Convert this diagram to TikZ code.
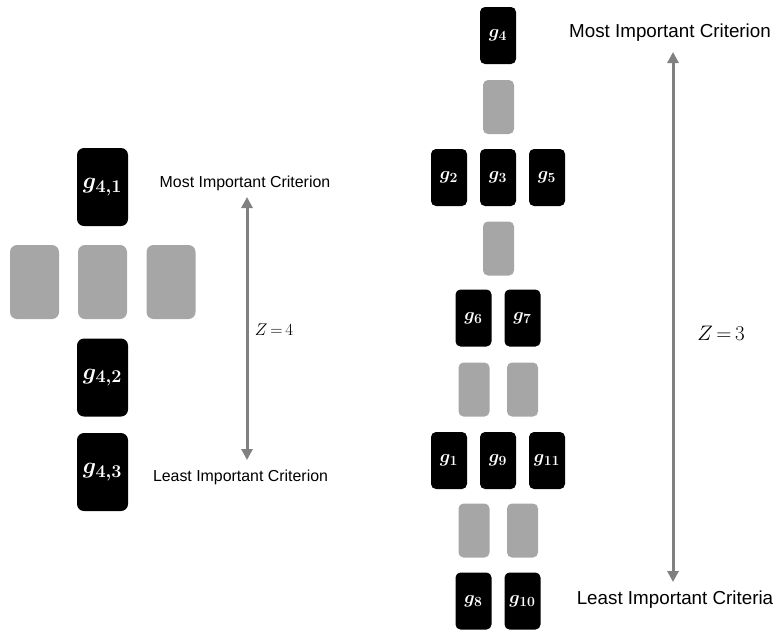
\RequirePackage{fix-cm}
\documentclass[tikz,border=0pt]{standalone}
\usepackage[no-math]{fontspec}
\usepackage{amsmath,bm}
\usetikzlibrary{arrows.meta,positioning}
\newfontfamily\labelfont{Liberation Sans}
\DeclareMathSizes{23}{23}{18}{14}
\DeclareMathSizes{18}{18}{14}{11}
\definecolor{cardgray}{RGB}{166,166,166}
\definecolor{axisgray}{RGB}{128,128,128}
\tikzset{
  card/.style={rectangle, rounded corners=7pt, fill=black, text=white, inner sep=0pt, minimum width=51pt, minimum height=78pt, font=\fontsize{23}{23}\selectfont},
  blank/.style={rectangle, rounded corners=7pt, fill=cardgray, inner sep=0pt, minimum width=49pt, minimum height=74pt},
  smallcard/.style={card, rounded corners=5pt, minimum width=36pt, minimum height=57pt, font=\fontsize{18}{18}\selectfont},
  smallblank/.style={blank, rounded corners=5pt, minimum width=31pt, minimum height=54pt},
  crit/.style={font=\labelfont\fontsize{15.9}{16}\selectfont, inner sep=0pt},
  critbig/.style={font=\labelfont\fontsize{18.8}{19}\selectfont, inner sep=0pt},
  zval/.style={font=\fontsize{17}{17}\selectfont, inner sep=0pt},
  rank/.style={{Triangle[length=11pt,width=11pt]}-{Triangle[length=11pt,width=11pt]}, line width=3pt, color=axisgray},
}

\begin{document}
\begin{tikzpicture}[x=1pt, y=-1pt]
  \useasboundingbox (0,0) rectangle (775,633);
  % left: one criterion g_4 split into three sub-criteria, Z = 4
  \node[card] (g41) at (102.5,187) {$\boldsymbol{g_{4,1}}$};
  \foreach \n/\x in {1/34.5,2/102.5,3/171} { \node[blank] (bL\n) at (\x,282) {}; }
  \node[card] (g42) at (102.5,377.5) {$\boldsymbol{g_{4,2}}$};
  \node[card] (g43) at (102.5,472) {$\boldsymbol{g_{4,3}}$};
  \node[crit] (mostL) at (245,183) {Most Important Criterion};
  \node[crit] (leastL) at (240.5,477) {Least Important Criterion};
  \coordinate (topL) at (247,197);
  \coordinate (botL) at (247,460);
  \draw[rank] (topL) -- (botL);
  \node[zval] (zL) at (274,330) {$Z\,{=}\,4$};
  % right: the whole family of criteria, Z = 3
  \node[smallcard] (g4) at (498,35.5) {$\boldsymbol{g_{4}}$};
  \node[smallblank] (bR1) at (498.5,107) {};
  \foreach \n/\x in {2/449,3/498,5/547} { \node[smallcard] (g\n) at (\x,177.5) {$\boldsymbol{g_{\n}}$}; }
  \node[smallblank] (bR2) at (498.5,248.5) {};
  \foreach \n/\x in {6/473.5,7/522.5} { \node[smallcard] (g\n) at (\x,318) {$\boldsymbol{g_{\n}}$}; }
  \foreach \n/\x in {a/474,b/522.5} { \node[smallblank] (bR3\n) at (\x,389.5) {}; }
  \foreach \n/\x in {1/449,9/498,11/547} { \node[smallcard] (g\n) at (\x,460.5) {$\boldsymbol{g_{\n}}$}; }
  \foreach \n/\x in {a/474,b/522.5} { \node[smallblank] (bR4\n) at (\x,530.5) {}; }
  \foreach \n/\x in {8/473.5,10/522.5} { \node[smallcard] (g\n) at (\x,601) {$\boldsymbol{g_{\n}}$}; }
  \node[critbig] (mostR) at (670,33) {Most Important Criterion};
  \node[critbig] (leastR) at (675,600) {Least Important Criteria};
  \coordinate (topR) at (673,52);
  \coordinate (botR) at (673,582);
  \draw[rank] (topR) -- (botR);
  \node[zval, font=\fontsize{21}{21}\selectfont] (zR) at (721,333) {$Z\,{=}\,3$};
\end{tikzpicture}
\end{document}
